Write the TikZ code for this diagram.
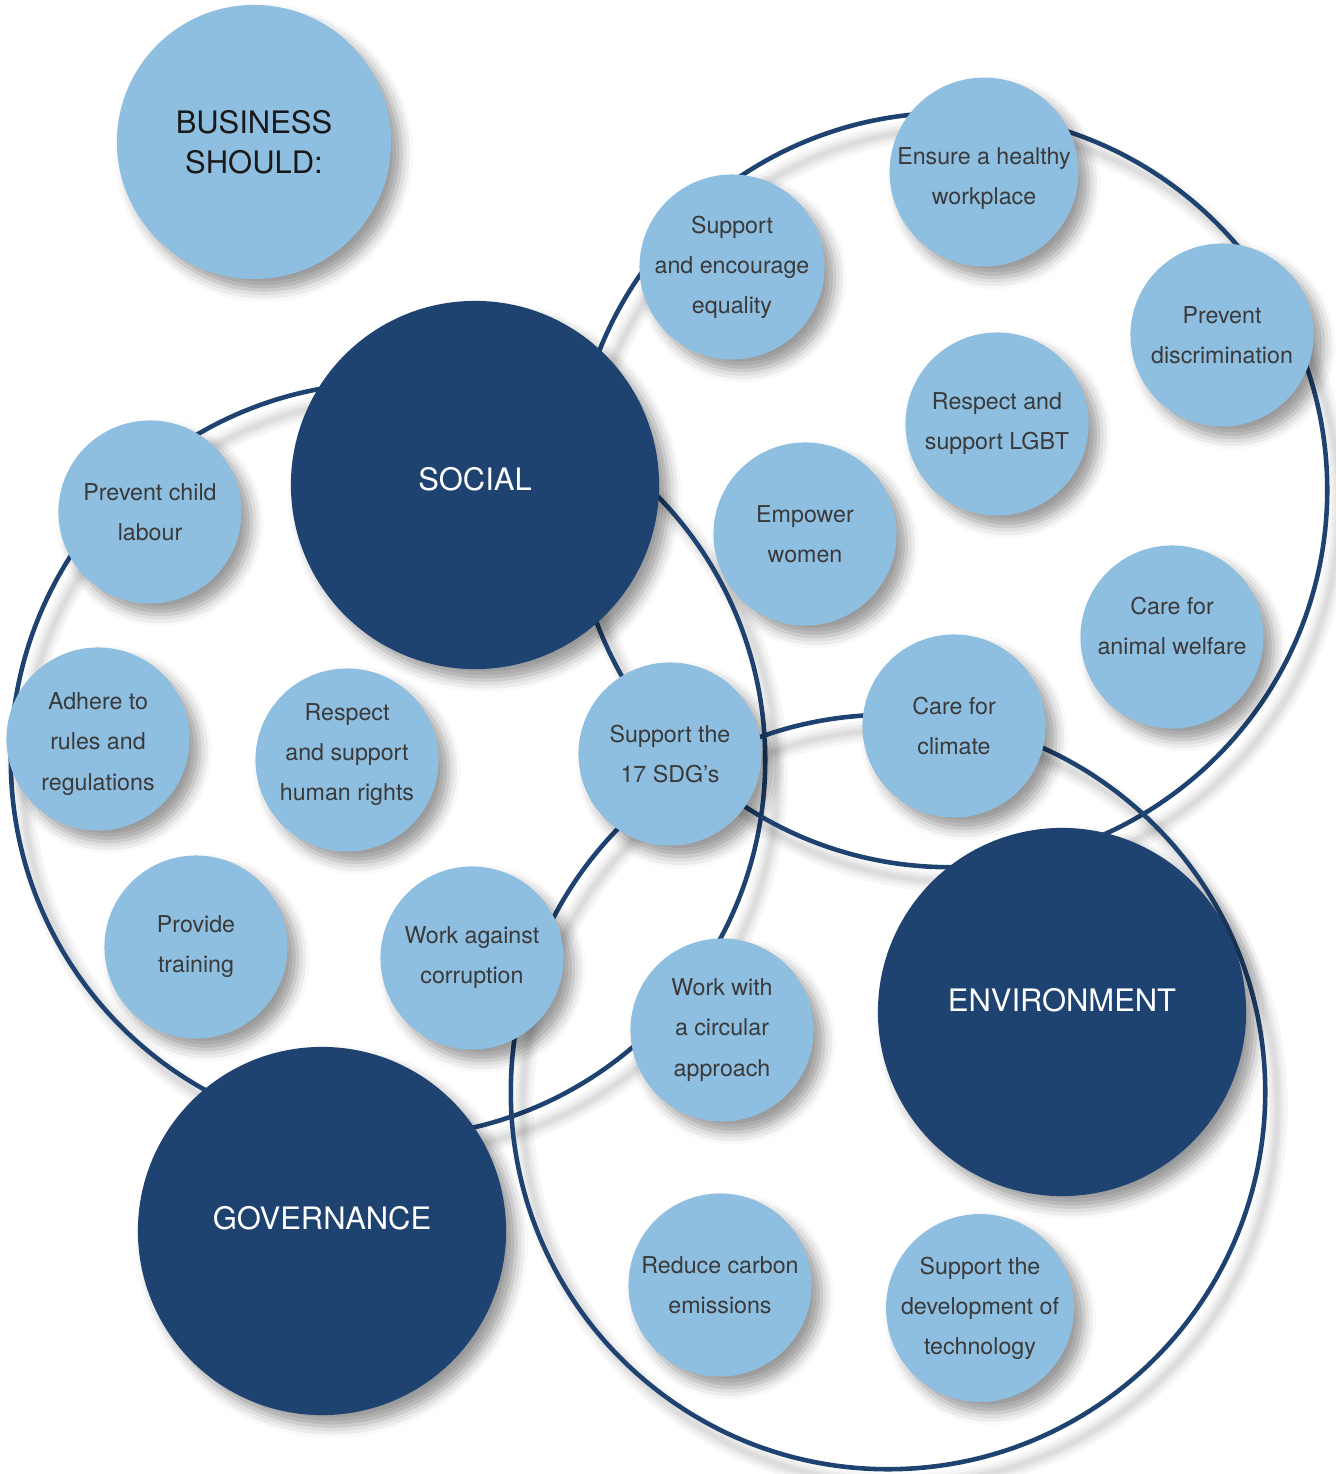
\documentclass[tikz,border=0pt]{standalone}
\usepackage{fontspec}
\setmainfont{TeX Gyre Heros}
\usetikzlibrary{shadows.blur}
\definecolor{navy}{HTML}{1F4371}
\definecolor{sky}{HTML}{8EBEE0}
\definecolor{ink}{HTML}{3A3A3A}
\tikzstyle{ring} = [draw=navy, line width=1.3pt]

\begin{document}
\begin{tikzpicture}
        [
            x=0.01cm, y=-0.01cm,
            disc/.style={circle, inner sep=0pt, align=center,
                blur shadow={shadow xshift=0.1cm, shadow yshift=-0.11cm, shadow blur radius=0.12cm, shadow opacity=40}},
            pillar/.style={disc, fill=navy, text=white, minimum size=3.68cm, font=\fontsize{8.8}{11.4}\selectfont},
            aim/.style={disc, fill=sky, text=ink, minimum size=1.83cm, font=\fontsize{6.6}{11.4}\selectfont},
        ]

    \useasboundingbox (0,0) rectangle (1335,1474);

    % the three rings, with a soft shade under each
    \foreach \cx/\cy in {388/760, 950/490, 888/1092}{
        \foreach \w in {6,4,2.5,1.4}
            \draw[line width=\w pt, black, opacity=0.035] (\cx+12,\cy+15) circle[radius=3.77cm];
        \draw[ring] (\cx,\cy) circle[radius=3.77cm];
    }

    \node[disc, fill=sky, text=black!90, minimum size=2.74cm, font=\fontsize{8.8}{11.4}\selectfont] (business) at (254,142) {BUSINESS\\SHOULD:};

    \node[pillar, text depth=0.12cm] (social) at (475,485) {SOCIAL};
    \node[pillar, text depth=0.24cm] (environment) at (1062,1012) {ENVIRONMENT};
    \node[pillar, text depth=0.26cm] (governance) at (322,1231) {GOVERNANCE};

    \node[aim] (equality) at (732,267) {Support\\and encourage\\equality};
    \node[aim] (workplace) at (984,172) {\rule{0pt}{0.3cm}Ensure a healthy\\workplace};
    \node[aim] (discrimination) at (1222,335) {Prevent\\discrimination};
    \node[aim] (lgbt) at (997,424) {Respect and\\support LGBT};
    \node[aim] (women) at (805,534) {Empower\\women};
    \node[aim] (animals) at (1172,637) {Care for\\animal welfare\rule[-0.22cm]{0pt}{0pt}};
    \node[aim] (climate) at (954,726) {Care for\\climate};
    \node[aim] (sdg) at (670,754) {Support the\\17 SDG's};
    \node[aim] (child) at (150,512) {Prevent child\\labour};
    \node[aim] (rules) at (98,739) {\rule{0pt}{0.27cm}Adhere to\\rules and\\regulations};
    \node[aim] (rights) at (347,760) {Respect\\and support\\human rights\rule[-0.16cm]{0pt}{0pt}};
    \node[aim] (training) at (196,947) {Provide\\training};
    \node[aim] (corruption) at (472,958) {Work against\\corruption};
    \node[aim] (circular) at (722,1030) {Work with\\a circular\\approach};
    \node[aim] (carbon) at (720,1285) {Reduce carbon\\emissions};
    \node[aim] (technology) at (980,1308) {Support the\\development of\\technology};
\end{tikzpicture}
\end{document}
